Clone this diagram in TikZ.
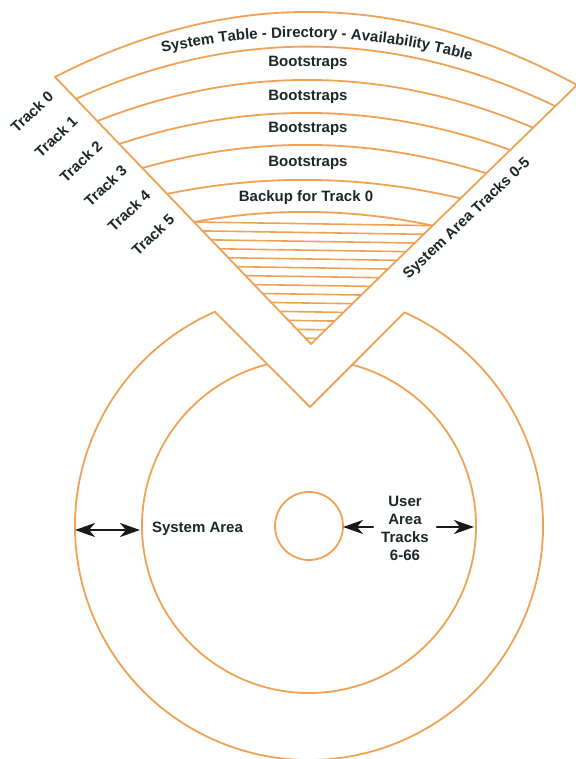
\documentclass[tikz,border=0pt]{standalone}
\usepackage{fontspec}
\setmainfont{Liberation Sans}
\usetikzlibrary{calc,arrows.meta,decorations.text}
\definecolor{org}{RGB}{240,162,84}
\definecolor{txt}{RGB}{28,40,40}
\newcommand\labfont{\fontsize{15}{18.3}\selectfont\bfseries}
\begin{document}
\begin{tikzpicture}[x=1pt,y=-1pt,
  ln/.style={draw=org,line width=1.8pt},
  hln/.style={draw=org,line width=1.6pt},
  lbl/.style={text=txt,font=\labfont,inner sep=0pt},
  tip/.tip={Stealth[length=20pt,width=14pt,inset=6pt]},
  arr/.style={draw=black!90,line width=2.4pt,-tip},
  dbl/.style={draw=black!90,line width=2.4pt,tip-tip},
  line join=round, line cap=round]
\useasboundingbox (0,0) rectangle (575,759);

% ---------- exploded wedge (system area tracks 0-5)
\coordinate (A) at (311,344);
\coordinate (L0) at (55,77);
\coordinate (R0) at (577,85);
\draw[ln] (L0) -- (A) -- (R0);

\foreach \lx/\ly/\cx/\cy/\rx/\ry in {
  55/77/316/-57/577/85,
  76/98.9/315.6/-9.2/555.2/106.2,
  97.2/121.1/315.2/35.6/533.1/127.7,
  119.3/144/314.8/79/510.2/150,
  142.3/168/314.3/119.3/486.3/173.3,
  167.1/193.9/313.8/163.8/460.5/198.4,
  194/222/313.3/200.2/432.6/225.6}
  {\draw[ln] (\lx,\ly) .. controls ($(\lx,\ly)!2/3!(\cx,\cy)$) and ($(\rx,\ry)!2/3!(\cx,\cy)$) .. (\rx,\ry);}

\foreach \k in {0,...,13}{
  \pgfmathsetmacro\f{0.457-0.0335*\k}
  \draw[hln] ($(A)!\f!(L0)$) -- ($(A)!\f!(R0)$);
}

% title along the arc
\path[decorate,decoration={text along path,text align=center,text color=txt,
  text={|\labfont|System Table - Directory - Availability Table}}]
  (66,81.8) .. controls ($(66,81.8)!2/3!(316,-12.5)$) and ($(566,93.3)!2/3!(316,-12.5)$) .. (566,93.3);

\node[lbl,anchor=base] (b1) at (308,66.5) {Bootstraps};
\node[lbl,anchor=base] (b2) at (308,100.7) {Bootstraps};
\node[lbl,anchor=base] (b3) at (308,133) {Bootstraps};
\node[lbl,anchor=base] (b4) at (308,167) {Bootstraps};
\node[lbl,anchor=base] (bk) at (306,201) {Backup for Track 0};

\node[lbl,rotate=43.5] (t0) at (32,112) {Track 0};
\node[lbl,rotate=43.5] (t1) at (56,137) {Track 1};
\node[lbl,rotate=43.5] (t2) at (81,161.5) {Track 2};
\node[lbl,rotate=43.5] (t3) at (105.5,186) {Track 3};
\node[lbl,rotate=43.5] (t4) at (129,211) {Track 4};
\node[lbl,rotate=43.5] (t5) at (153,235) {Track 5};

\node[lbl,rotate=43.5] (sat) at (467,219) {System Area Tracks 0-5};

% ---------- disk
\coordinate (O) at (309,526);
\coordinate (V) at (310,407);
\draw[ln] ($(O)+(65.9:234pt)$) -- (V) -- ($(O)+(113.7:234pt)$)
  arc[start angle=113.7,end angle=425.9,radius=234pt];
\draw[ln] ($(O)+(104.5:167pt)$) arc[start angle=104.5,end angle=435,radius=167pt];
\draw[ln] (O) circle[radius=34pt];

% ---------- labels and arrows
\node[lbl,anchor=base] (sys) at (197.5,532.7) {System Area};
\node[lbl,align=center,anchor=north] (usr) at (405,495.5) {User\\Area\\Tracks\\6-66};

\coordinate (s1) at (75,530);
\coordinate (s2) at (140,530);
\draw[dbl] (s1) -- (s2);
\coordinate (u1) at (373,527);
\coordinate (u2) at (343,527);
\draw[arr] (u1) -- (u2);
\coordinate (u3) at (437,527);
\coordinate (u4) at (474,527);
\draw[arr] (u3) -- (u4);
\end{tikzpicture}
\end{document}
